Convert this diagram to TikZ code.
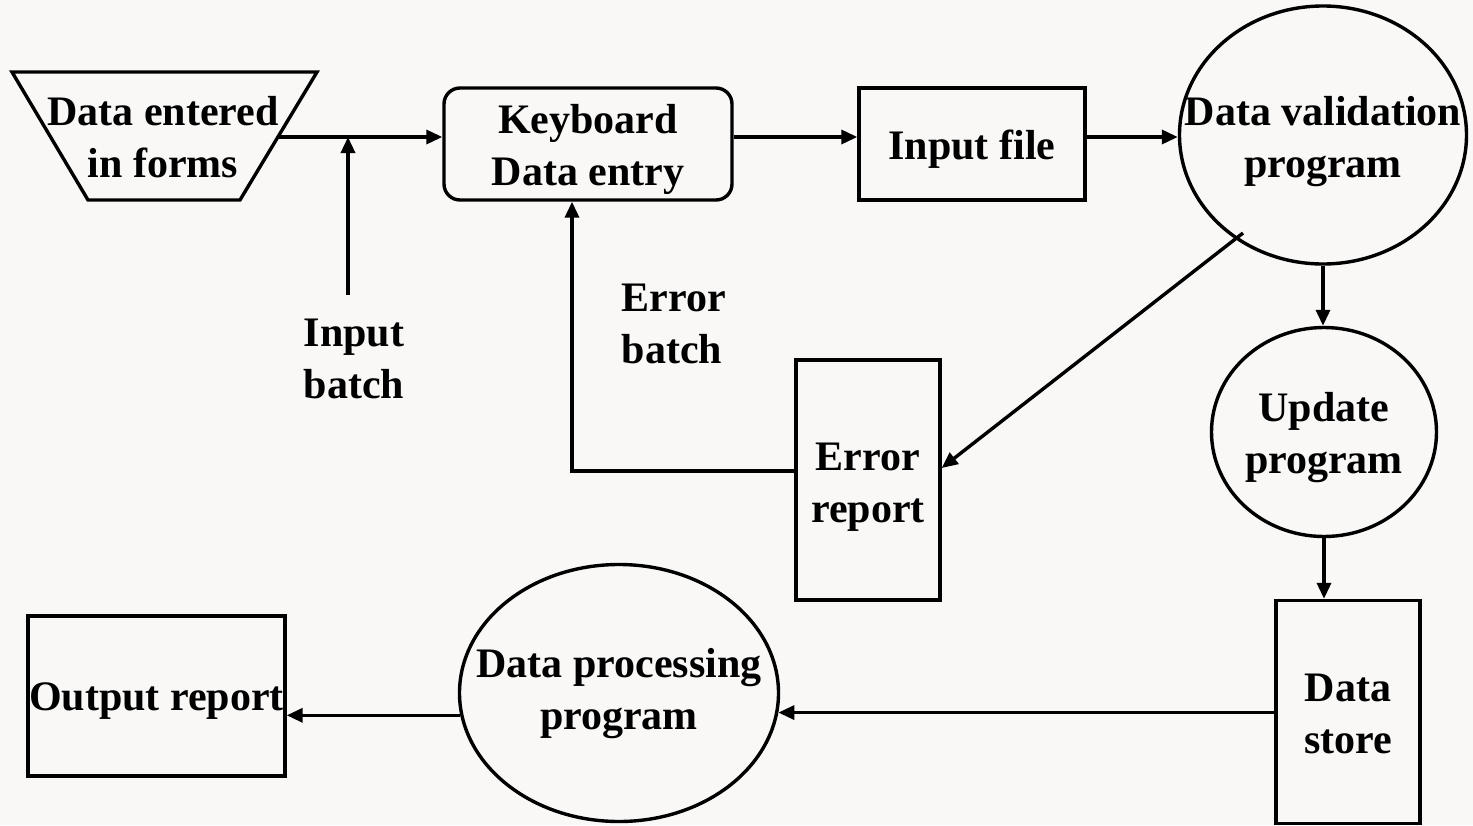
\documentclass[tikz,border=0pt]{standalone}
\usepackage{fontspec}
\setmainfont{Liberation Serif}
\usetikzlibrary{arrows.meta,shapes.geometric}
\definecolor{bg}{HTML}{F9F8F7}
\begin{document}
\begin{tikzpicture}[x=1pt,y=-1pt,line width=3.4pt,
  every node/.style={font=\bfseries\fontsize{42}{52}\selectfont,align=center,inner sep=0pt},
  arr/.style={-{Triangle[length=16pt,width=14pt]}},
  box/.style={draw,rectangle},
  oval/.style={draw,ellipse}]
\fill[bg] (0,0) rectangle (1473,825);
\useasboundingbox (0,0) rectangle (1473,825);

% shapes
\draw[line join=miter] (12,72) -- (317,72) -- (240,200) -- (88,200) -- cycle;
\coordinate (formR) at (278.5,137);
\node[box,rounded corners=16pt,minimum width=288pt,minimum height=112pt] (kb) at (588,144) {};
\node[box,minimum width=226pt,minimum height=112pt] (if) at (972,144) {};
\node[oval,minimum width=287pt,minimum height=258pt] (dv) at (1323,135) {};
\node[oval,minimum width=225pt,minimum height=209pt] (up) at (1324,432) {};
\node[box,minimum width=144pt,minimum height=223pt] (ds) at (1348,712) {};
\node[oval,minimum width=319pt,minimum height=257pt] (dp) at (619,693) {};
\node[box,minimum width=257pt,minimum height=160pt] (or) at (156.5,696) {};
\node[box,minimum width=144pt,minimum height=240pt] (er) at (868,480) {};

% texts
\node (form) at (163,137) {Data entered\\in forms};
\node[yshift=-5pt] (kbT) at (kb.center) {Keyboard\\Data entry};
\node[yshift=-5pt] (ifT) at (if.center) {Input file};
\node[yshift=-7pt] (dvT) at (dv.center) {Data validation\\program};
\node[yshift=-6pt] (upT) at (up.center) {Update\\program};
\node[yshift=-2pt] (dsT) at (ds.center) {Data\\store};
\node[yshift=-1pt] (dpT) at (dp.center) {Data processing\\program};
\node[yshift=-5pt] (orT) at (or.center) {Output report};
\node[yshift=-7pt] (erT) at (er.center) {Error\\report};
\node (ib) at (354,359) {Input\\batch};
\node[anchor=west,align=left] (eb) at (620,324) {Error\\batch};

% connectors
\coordinate (jn) at (348,137);
\coordinate (ibs) at (348,295);
\coordinate (dvp) at (1243,233);

\draw[arr] (formR) -- ([yshift=7pt]kb.west);
\draw[arr] (ibs) -- (jn);
\draw[arr] ([yshift=7pt]kb.east) -- ([yshift=7pt]if.west);
\draw[arr] ([yshift=7pt]if.east) -- ([yshift=7pt]if.east -| dv.west);
\draw[arr] (dv.south) -- (dv.south |- up.north);
\draw[arr] (up.south) -- (up.south |- ds.north);
\draw[arr] (ds.west |- dp.-7.3) -- (dp.-7.3);
\draw[arr] (dp.-172.7) -- (or.east |- dp.-172.7);
\draw[arr] (dvp) -- ([yshift=12pt]er.east);
\draw[arr] ([yshift=9pt]er.west) -| ([xshift=-16pt]kb.south);
\end{tikzpicture}
\end{document}
